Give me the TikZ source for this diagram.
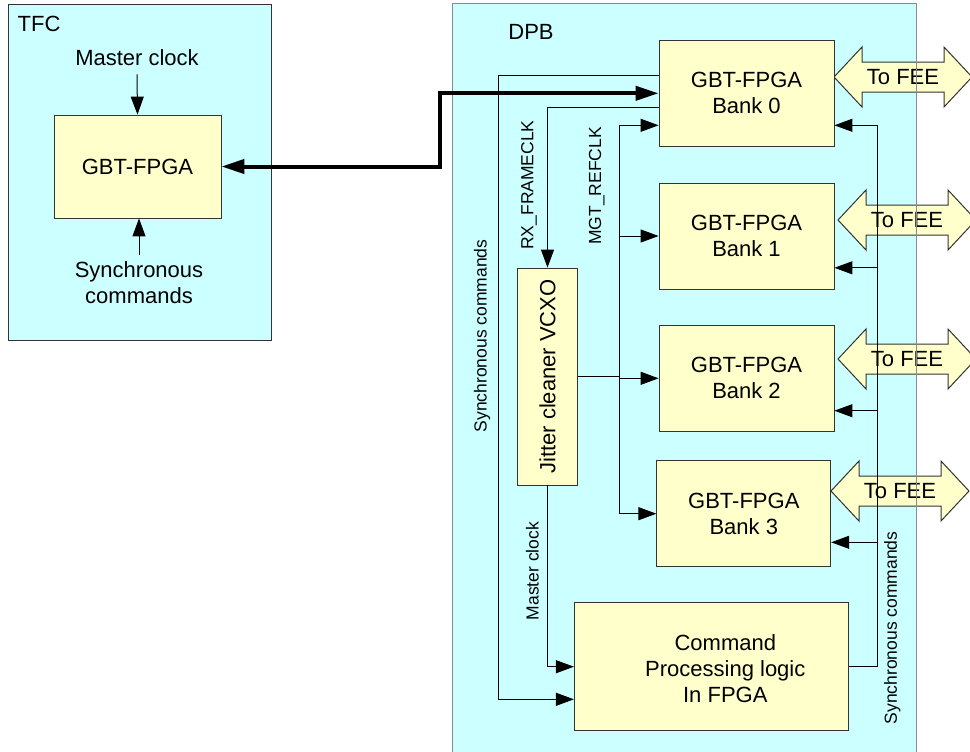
\documentclass[tikz,border=0pt]{standalone}
\usepackage{fontspec}
\setmainfont{Liberation Sans}
\usetikzlibrary{arrows.meta,positioning}
\definecolor{cyanbg}{HTML}{CCFFFF}
\definecolor{blockfill}{HTML}{FFFFCC}
\definecolor{edge}{HTML}{333333}
\definecolor{frame}{HTML}{8A8A8A}

\begin{document}
\begin{tikzpicture}[x=0.5pt,y=-0.5pt,>={Triangle[length=9pt,width=6.5pt]},
  panel/.style={fill=cyanbg,inner sep=0pt},
  blk/.style={draw=edge,fill=blockfill,align=center,inner sep=0pt,font=\fontsize{11}{13}\selectfont},
  txt/.style={align=center,font=\fontsize{11}{13}\selectfont},
  side/.style={rotate=90,inner sep=0pt,font=\fontsize{8.75}{10}\selectfont},
  wire/.style={->,line width=0.5pt},
  link/.style={arrows={Triangle[length=11.5pt,width=7pt]-Triangle[length=11.5pt,width=7pt]},line width=2pt},
  fee/.style={draw=edge,fill=blockfill,line width=0.5pt}]
\useasboundingbox (0,0) rectangle (970,751);
% containers
\node[panel,draw=edge,minimum width=131.5pt,minimum height=168pt] (tfc) at (139.5,172) {};
\node[panel,minimum width=231.5pt,minimum height=378pt] (dpb) at (684.5,382) {};
% links to FEE
\foreach \l/\c/\r/\n in {834/77/972/0,838/220/976/1,838/359/976/2,831/491/969/3}{
  \draw[fee] (\l,\c) -- (\l+28,\c-30) -- (\l+28,\c-15) -- (\r-28,\c-15) -- (\r-28,\c-30) -- (\r,\c)
    -- (\r-28,\c+30) -- (\r-28,\c+15) -- (\l+28,\c+15) -- (\l+28,\c+30) -- cycle;
  \node[txt] (fee\n) at ({(\l+\r)/2},\c) {To FEE};
}
\draw[frame,line width=0.5pt] (dpb.south west) rectangle (dpb.north east);
\node[txt] (tfclbl) at (39,24) {TFC};
\node[txt] (dpblbl) at (531,32) {DPB};

% TFC side
\node[blk,minimum width=83.5pt,minimum height=51.5pt] (tfcgbt) at (137.5,166.5) {GBT-FPGA};
\node[txt,inner sep=4pt] (mclk) at (137,58) {Master clock};
\node[txt] (synccmd) at (139,283) {Synchronous\\commands};
\draw[wire] (mclk.south) -- (tfcgbt.north);
\draw[wire] (synccmd.north) -- (synccmd.north |- tfcgbt.south);

% DPB side
\node[blk,minimum width=87.5pt,minimum height=53pt] (bank0) at (746.5,93.3) {GBT-FPGA\\Bank 0};
\node[blk,minimum width=87.5pt,minimum height=53pt] (bank1) at (746.5,236) {GBT-FPGA\\Bank 1};
\node[blk,minimum width=87.5pt,minimum height=53pt] (bank2) at (746.5,378.3) {GBT-FPGA\\Bank 2};
\node[blk,minimum width=87pt,minimum height=53pt] (bank3) at (743.8,513.7) {GBT-FPGA\\Bank 3};
\node[blk,minimum width=137pt,minimum height=64pt] (cmd) at (711.3,666.7)
  {\hspace*{7pt}\raisebox{-2.5pt}[\height][\depth]{\begin{tabular}{@{}c@{}}Command\\Processing logic\\In FPGA\end{tabular}}\hspace*{-7pt}};
\node[blk,minimum width=30pt,minimum height=108.5pt] (jit) at (547.5,376.5) {\rotatebox{90}{Jitter cleaner VCXO}};

\draw[link] (bank0.west) -- ++(-219,0) |- (tfcgbt.east);
\draw[wire] ([yshift=8.8pt]bank0.west) -- ++(-160,0) |- ([yshift=-16.3pt]cmd.west);
\draw[wire] ([yshift=-7pt]bank0.west) -| (jit.north);
\draw[wire] (jit.south) |- (cmd.west);

% reference clock fan-out
\coordinate (trunk) at (619,376.5);
\draw[line width=0.5pt] (jit.east) -- (trunk);
\draw[wire] (trunk) |- ([yshift=-16pt]bank0.west);
\foreach \b in {bank1,bank2,bank3}
  \draw[wire] (trunk) |- (\b.west);

% synchronous commands back to banks
\coordinate (rtrunk) at (877,666.7);
\draw[line width=0.5pt] (cmd.east) -- (rtrunk);
\foreach \b/\s in {bank0/-16pt,bank1/-15.9pt,bank2/-16.2pt,bank3/-14.3pt}
  \draw[wire] (rtrunk) |- ([yshift=\s]\b.east);

\node[side] (synl) at (482,336) {Synchronous commands};
\node[side] (rxl) at (529,185) {RX\_FRAMECLK};
\node[side] (mgtl) at (596.7,186) {MGT\_REFCLK};
\node[side] (mcl) at (532.3,571) {Master clock};
\node[side] (synr) at (892.3,628) {Synchronous commands};
\end{tikzpicture}
\end{document}
